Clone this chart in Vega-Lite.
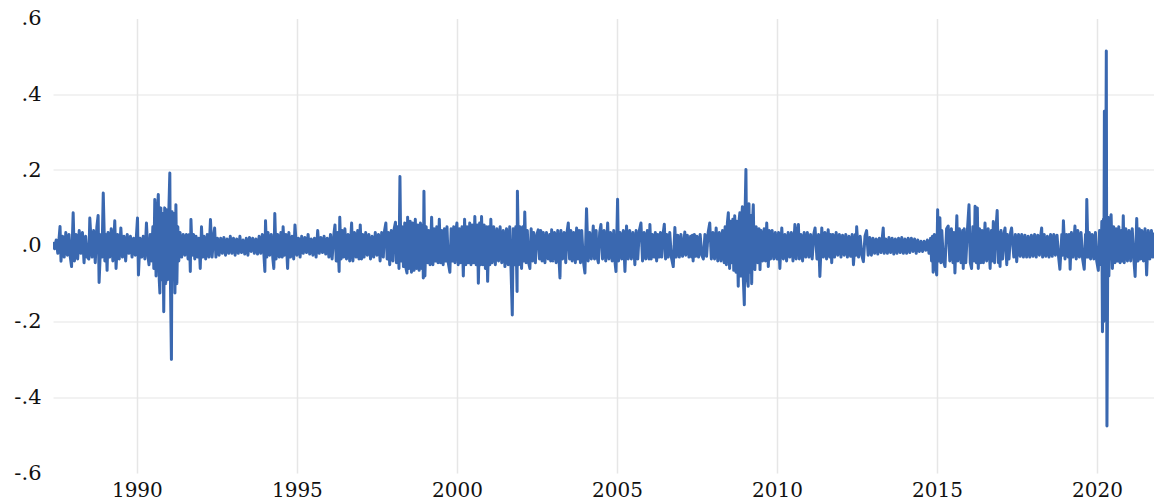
{
"$schema":"https://vega.github.io/schema/vega-lite/v6.json",
"width":1101,"height":454.5,
"autosize":{"type":"none"},
"padding":{"left":53,"top":18.5,"right":0,"bottom":28},
"config":{"view":{"stroke":null},"axis":{"labelFont":"DejaVu Serif","labelFontSize":21,"labelColor":"#111111","domain":false,"ticks":false,"gridColor":"#e6e6e6"}},
"data":{"values":[
{"t":1987.38,"v":0.010},{"t":1987.43,"v":-0.008},{"t":1987.48,"v":0.015},{"t":1987.53,"v":-0.020},{"t":1987.58,"v":0.030},{"t":1987.60,"v":0.051},{"t":1987.63,"v":-0.041},{"t":1987.68,"v":0.025},{"t":1987.73,"v":-0.030},{"t":1987.78,"v":0.035},{"t":1987.83,"v":-0.025},{"t":1987.88,"v":0.030},{"t":1987.92,"v":-0.030},{"t":1987.96,"v":-0.055},
{"t":1988.01,"v":0.087},{"t":1988.05,"v":-0.040},{"t":1988.10,"v":0.030},{"t":1988.15,"v":-0.035},{"t":1988.20,"v":0.040},{"t":1988.25,"v":-0.020},{"t":1988.30,"v":0.035},{"t":1988.35,"v":-0.045},{"t":1988.40,"v":0.025},{"t":1988.45,"v":-0.030},{"t":1988.50,"v":-0.035},{"t":1988.53,"v":0.073},{"t":1988.60,"v":-0.030},{"t":1988.65,"v":0.040},{"t":1988.70,"v":-0.045},{"t":1988.75,"v":0.050},{"t":1988.79,"v":0.080},{"t":1988.82,"v":-0.097},{"t":1988.88,"v":0.030},{"t":1988.91,"v":-0.030},{"t":1988.95,"v":0.139},
{"t":1989.00,"v":-0.040},{"t":1989.03,"v":0.030},{"t":1989.07,"v":-0.065},{"t":1989.10,"v":0.035},{"t":1989.15,"v":-0.030},{"t":1989.20,"v":0.045},{"t":1989.25,"v":-0.040},{"t":1989.31,"v":0.066},{"t":1989.35,"v":-0.060},{"t":1989.40,"v":0.030},{"t":1989.45,"v":-0.035},{"t":1989.50,"v":0.047},{"t":1989.55,"v":-0.030},{"t":1989.60,"v":0.025},{"t":1989.65,"v":-0.040},{"t":1989.70,"v":0.030},{"t":1989.75,"v":-0.020},{"t":1989.80,"v":0.025},{"t":1989.85,"v":-0.030},{"t":1989.90,"v":0.020},{"t":1989.95,"v":-0.025},
{"t":1990.02,"v":0.073},{"t":1990.05,"v":-0.077},{"t":1990.10,"v":0.020},{"t":1990.15,"v":-0.030},{"t":1990.20,"v":0.025},{"t":1990.25,"v":-0.035},{"t":1990.30,"v":0.060},{"t":1990.35,"v":-0.030},{"t":1990.38,"v":-0.050},{"t":1990.42,"v":0.030},{"t":1990.46,"v":-0.040},{"t":1990.50,"v":0.050},{"t":1990.53,"v":-0.060},{"t":1990.56,"v":0.122},{"t":1990.60,"v":-0.080},{"t":1990.64,"v":0.090},{"t":1990.67,"v":0.135},{"t":1990.70,"v":-0.090},{"t":1990.72,"v":-0.125},{"t":1990.75,"v":0.100},{"t":1990.78,"v":-0.090},{"t":1990.81,"v":0.085},{"t":1990.84,"v":-0.174},{"t":1990.87,"v":0.100},{"t":1990.90,"v":-0.100},{"t":1990.93,"v":0.095},{"t":1990.96,"v":-0.090},
{"t":1991.00,"v":0.095},{"t":1991.03,"v":0.192},{"t":1991.05,"v":-0.100},{"t":1991.08,"v":-0.300},{"t":1991.10,"v":0.090},{"t":1991.13,"v":-0.090},{"t":1991.16,"v":0.085},{"t":1991.19,"v":-0.125},{"t":1991.22,"v":0.108},{"t":1991.25,"v":-0.100},{"t":1991.28,"v":0.050},{"t":1991.31,"v":-0.040},{"t":1991.35,"v":0.035},{"t":1991.40,"v":-0.030},{"t":1991.45,"v":0.030},{"t":1991.50,"v":-0.025},{"t":1991.55,"v":0.030},{"t":1991.60,"v":-0.035},{"t":1991.64,"v":0.030},{"t":1991.67,"v":-0.068},{"t":1991.69,"v":0.069},{"t":1991.73,"v":-0.025},{"t":1991.77,"v":0.030},{"t":1991.81,"v":-0.035},{"t":1991.85,"v":0.025},{"t":1991.90,"v":-0.030},{"t":1991.94,"v":0.020},{"t":1991.98,"v":-0.060},
{"t":1992.02,"v":0.050},{"t":1992.06,"v":-0.030},{"t":1992.10,"v":0.025},{"t":1992.15,"v":-0.035},{"t":1992.20,"v":0.030},{"t":1992.25,"v":-0.030},{"t":1992.30,"v":0.069},{"t":1992.35,"v":-0.030},{"t":1992.40,"v":0.025},{"t":1992.43,"v":0.047},{"t":1992.47,"v":-0.030},{"t":1992.52,"v":0.020},{"t":1992.57,"v":-0.025},{"t":1992.62,"v":0.020},{"t":1992.67,"v":-0.020},{"t":1992.72,"v":0.022},{"t":1992.77,"v":-0.025},{"t":1992.82,"v":0.018},{"t":1992.87,"v":-0.020},{"t":1992.92,"v":0.025},{"t":1992.97,"v":-0.020},
{"t":1993.02,"v":0.020},{"t":1993.07,"v":-0.025},{"t":1993.12,"v":0.018},{"t":1993.17,"v":-0.020},{"t":1993.22,"v":0.025},{"t":1993.27,"v":-0.018},{"t":1993.32,"v":0.015},{"t":1993.37,"v":-0.022},{"t":1993.42,"v":0.020},{"t":1993.47,"v":-0.025},{"t":1993.52,"v":0.022},{"t":1993.57,"v":-0.015},{"t":1993.62,"v":0.020},{"t":1993.67,"v":-0.020},{"t":1993.72,"v":0.018},{"t":1993.77,"v":-0.022},{"t":1993.82,"v":0.025},{"t":1993.87,"v":-0.020},{"t":1993.92,"v":0.030},{"t":1993.97,"v":-0.025},
{"t":1994.00,"v":-0.068},{"t":1994.02,"v":0.066},{"t":1994.06,"v":-0.030},{"t":1994.10,"v":0.035},{"t":1994.15,"v":-0.025},{"t":1994.20,"v":0.030},{"t":1994.25,"v":-0.035},{"t":1994.28,"v":-0.060},{"t":1994.31,"v":0.085},{"t":1994.35,"v":-0.035},{"t":1994.40,"v":0.030},{"t":1994.45,"v":-0.030},{"t":1994.50,"v":0.035},{"t":1994.54,"v":-0.030},{"t":1994.57,"v":0.050},{"t":1994.61,"v":-0.025},{"t":1994.66,"v":0.030},{"t":1994.71,"v":-0.060},{"t":1994.75,"v":0.035},{"t":1994.80,"v":-0.030},{"t":1994.85,"v":0.025},{"t":1994.90,"v":-0.035},{"t":1994.94,"v":0.055},
{"t":1995.00,"v":-0.025},{"t":1995.05,"v":0.020},{"t":1995.10,"v":-0.030},{"t":1995.15,"v":0.025},{"t":1995.20,"v":-0.020},{"t":1995.25,"v":0.022},{"t":1995.30,"v":-0.018},{"t":1995.35,"v":0.030},{"t":1995.40,"v":-0.022},{"t":1995.45,"v":0.018},{"t":1995.50,"v":-0.025},{"t":1995.55,"v":0.020},{"t":1995.60,"v":-0.030},{"t":1995.65,"v":0.040},{"t":1995.70,"v":-0.020},{"t":1995.75,"v":0.022},{"t":1995.80,"v":-0.018},{"t":1995.85,"v":0.025},{"t":1995.90,"v":-0.022},{"t":1995.95,"v":0.020},
{"t":1996.00,"v":-0.030},{"t":1996.05,"v":0.030},{"t":1996.10,"v":-0.035},{"t":1996.15,"v":0.025},{"t":1996.19,"v":0.055},{"t":1996.23,"v":-0.040},{"t":1996.27,"v":0.035},{"t":1996.32,"v":-0.068},{"t":1996.34,"v":0.075},{"t":1996.38,"v":-0.035},{"t":1996.42,"v":0.040},{"t":1996.46,"v":-0.030},{"t":1996.50,"v":0.045},{"t":1996.55,"v":-0.035},{"t":1996.60,"v":0.030},{"t":1996.65,"v":-0.040},{"t":1996.71,"v":0.060},{"t":1996.75,"v":-0.040},{"t":1996.80,"v":0.035},{"t":1996.85,"v":-0.030},{"t":1996.90,"v":0.040},{"t":1996.94,"v":-0.035},{"t":1996.98,"v":0.055},
{"t":1997.02,"v":-0.035},{"t":1997.06,"v":0.030},{"t":1997.10,"v":-0.030},{"t":1997.15,"v":0.035},{"t":1997.20,"v":-0.025},{"t":1997.25,"v":0.030},{"t":1997.30,"v":-0.035},{"t":1997.35,"v":0.025},{"t":1997.40,"v":-0.030},{"t":1997.45,"v":0.035},{"t":1997.50,"v":-0.025},{"t":1997.55,"v":0.030},{"t":1997.60,"v":-0.040},{"t":1997.65,"v":0.035},{"t":1997.70,"v":-0.030},{"t":1997.74,"v":0.040},{"t":1997.78,"v":0.060},{"t":1997.82,"v":-0.035},{"t":1997.86,"v":0.035},{"t":1997.90,"v":-0.050},{"t":1997.95,"v":0.040},
{"t":1998.00,"v":-0.040},{"t":1998.04,"v":0.045},{"t":1998.08,"v":0.062},{"t":1998.11,"v":-0.045},{"t":1998.15,"v":0.050},{"t":1998.19,"v":-0.060},{"t":1998.22,"v":0.183},{"t":1998.25,"v":-0.040},{"t":1998.29,"v":0.050},{"t":1998.33,"v":-0.055},{"t":1998.37,"v":0.060},{"t":1998.41,"v":-0.060},{"t":1998.44,"v":-0.072},{"t":1998.46,"v":0.075},{"t":1998.50,"v":-0.060},{"t":1998.54,"v":0.065},{"t":1998.58,"v":-0.070},{"t":1998.62,"v":0.060},{"t":1998.66,"v":-0.065},{"t":1998.70,"v":0.070},{"t":1998.74,"v":-0.060},{"t":1998.78,"v":0.055},{"t":1998.82,"v":-0.065},{"t":1998.86,"v":0.060},{"t":1998.90,"v":-0.060},{"t":1998.93,"v":0.055},{"t":1998.95,"v":-0.085},{"t":1998.97,"v":0.144},
{"t":1999.00,"v":-0.080},{"t":1999.04,"v":0.050},{"t":1999.08,"v":-0.045},{"t":1999.12,"v":0.040},{"t":1999.16,"v":-0.050},{"t":1999.21,"v":0.075},{"t":1999.25,"v":-0.050},{"t":1999.29,"v":0.045},{"t":1999.33,"v":-0.040},{"t":1999.37,"v":0.050},{"t":1999.41,"v":-0.045},{"t":1999.45,"v":0.070},{"t":1999.49,"v":-0.045},{"t":1999.53,"v":0.040},{"t":1999.57,"v":-0.050},{"t":1999.61,"v":0.045},{"t":1999.65,"v":-0.040},{"t":1999.69,"v":0.050},{"t":1999.73,"v":-0.045},{"t":1999.78,"v":-0.070},{"t":1999.82,"v":0.045},{"t":1999.86,"v":-0.040},{"t":1999.90,"v":0.050},{"t":1999.94,"v":-0.045},{"t":1999.97,"v":0.040},
{"t":2000.00,"v":0.060},{"t":2000.04,"v":-0.050},{"t":2000.08,"v":0.045},{"t":2000.12,"v":-0.045},{"t":2000.16,"v":0.050},{"t":2000.20,"v":-0.080},{"t":2000.24,"v":0.070},{"t":2000.28,"v":-0.050},{"t":2000.32,"v":0.050},{"t":2000.36,"v":-0.045},{"t":2000.40,"v":0.060},{"t":2000.44,"v":-0.050},{"t":2000.48,"v":0.055},{"t":2000.52,"v":-0.045},{"t":2000.56,"v":0.077},{"t":2000.60,"v":-0.050},{"t":2000.64,"v":0.055},{"t":2000.67,"v":-0.099},{"t":2000.71,"v":0.060},{"t":2000.74,"v":-0.050},{"t":2000.77,"v":0.077},{"t":2000.81,"v":-0.050},{"t":2000.85,"v":0.055},{"t":2000.89,"v":-0.060},{"t":2000.93,"v":0.050},{"t":2000.96,"v":-0.094},
{"t":2001.00,"v":0.050},{"t":2001.03,"v":-0.050},{"t":2001.06,"v":0.070},{"t":2001.10,"v":-0.045},{"t":2001.15,"v":0.050},{"t":2001.20,"v":-0.050},{"t":2001.25,"v":0.045},{"t":2001.30,"v":-0.040},{"t":2001.35,"v":0.050},{"t":2001.40,"v":-0.045},{"t":2001.45,"v":0.040},{"t":2001.50,"v":-0.055},{"t":2001.55,"v":0.045},{"t":2001.60,"v":-0.050},{"t":2001.65,"v":0.050},{"t":2001.69,"v":-0.060},{"t":2001.73,"v":-0.183},{"t":2001.76,"v":0.045},{"t":2001.80,"v":-0.050},{"t":2001.84,"v":0.050},{"t":2001.88,"v":-0.121},{"t":2001.89,"v":0.144},{"t":2001.93,"v":-0.050},{"t":2001.97,"v":0.050},
{"t":2002.02,"v":-0.060},{"t":2002.06,"v":0.050},{"t":2002.09,"v":-0.040},{"t":2002.12,"v":0.089},{"t":2002.16,"v":-0.045},{"t":2002.20,"v":0.040},{"t":2002.24,"v":-0.045},{"t":2002.28,"v":-0.060},{"t":2002.32,"v":0.045},{"t":2002.36,"v":-0.040},{"t":2002.40,"v":0.035},{"t":2002.45,"v":-0.045},{"t":2002.50,"v":0.030},{"t":2002.54,"v":0.042},{"t":2002.58,"v":-0.035},{"t":2002.62,"v":0.040},{"t":2002.66,"v":-0.040},{"t":2002.70,"v":0.035},{"t":2002.75,"v":-0.045},{"t":2002.80,"v":0.035},{"t":2002.85,"v":-0.035},{"t":2002.90,"v":0.030},{"t":2002.93,"v":-0.040},{"t":2002.96,"v":0.042},
{"t":2003.00,"v":-0.040},{"t":2003.05,"v":0.035},{"t":2003.10,"v":-0.045},{"t":2003.15,"v":0.040},{"t":2003.19,"v":-0.035},{"t":2003.22,"v":-0.085},{"t":2003.25,"v":0.040},{"t":2003.30,"v":-0.035},{"t":2003.35,"v":0.035},{"t":2003.40,"v":-0.045},{"t":2003.44,"v":0.035},{"t":2003.48,"v":0.060},{"t":2003.52,"v":-0.035},{"t":2003.56,"v":0.040},{"t":2003.60,"v":-0.040},{"t":2003.65,"v":0.035},{"t":2003.70,"v":-0.045},{"t":2003.74,"v":0.047},{"t":2003.78,"v":-0.035},{"t":2003.82,"v":0.040},{"t":2003.86,"v":-0.045},{"t":2003.90,"v":0.040},{"t":2003.95,"v":-0.040},
{"t":2004.00,"v":-0.072},{"t":2004.05,"v":0.098},{"t":2004.10,"v":-0.040},{"t":2004.15,"v":0.035},{"t":2004.20,"v":-0.035},{"t":2004.26,"v":0.052},{"t":2004.30,"v":-0.035},{"t":2004.35,"v":0.040},{"t":2004.38,"v":-0.030},{"t":2004.42,"v":-0.045},{"t":2004.46,"v":0.035},{"t":2004.50,"v":0.056},{"t":2004.55,"v":-0.035},{"t":2004.60,"v":0.040},{"t":2004.65,"v":-0.040},{"t":2004.71,"v":0.060},{"t":2004.75,"v":-0.035},{"t":2004.80,"v":0.035},{"t":2004.85,"v":-0.040},{"t":2004.90,"v":0.040},{"t":2004.93,"v":-0.035},{"t":2004.97,"v":-0.068},
{"t":2005.00,"v":0.040},{"t":2005.02,"v":0.123},{"t":2005.05,"v":-0.040},{"t":2005.10,"v":0.035},{"t":2005.15,"v":-0.035},{"t":2005.20,"v":0.040},{"t":2005.25,"v":-0.068},{"t":2005.30,"v":0.052},{"t":2005.35,"v":-0.035},{"t":2005.40,"v":0.040},{"t":2005.45,"v":-0.035},{"t":2005.50,"v":0.035},{"t":2005.56,"v":-0.050},{"t":2005.60,"v":0.040},{"t":2005.65,"v":-0.035},{"t":2005.70,"v":0.040},{"t":2005.75,"v":0.060},{"t":2005.80,"v":-0.040},{"t":2005.85,"v":0.035},{"t":2005.90,"v":-0.035},{"t":2005.95,"v":0.040},
{"t":2006.00,"v":-0.035},{"t":2006.03,"v":0.056},{"t":2006.07,"v":-0.035},{"t":2006.11,"v":0.030},{"t":2006.16,"v":-0.030},{"t":2006.20,"v":0.035},{"t":2006.24,"v":-0.040},{"t":2006.28,"v":0.030},{"t":2006.32,"v":-0.030},{"t":2006.36,"v":0.035},{"t":2006.40,"v":-0.030},{"t":2006.44,"v":0.030},{"t":2006.48,"v":0.057},{"t":2006.52,"v":-0.035},{"t":2006.56,"v":0.030},{"t":2006.60,"v":-0.030},{"t":2006.65,"v":0.035},{"t":2006.70,"v":-0.030},{"t":2006.76,"v":-0.055},{"t":2006.81,"v":0.048},{"t":2006.85,"v":-0.030},{"t":2006.90,"v":0.028},{"t":2006.95,"v":-0.030},
{"t":2007.00,"v":0.030},{"t":2007.05,"v":-0.028},{"t":2007.12,"v":0.036},{"t":2007.15,"v":-0.025},{"t":2007.20,"v":0.028},{"t":2007.25,"v":-0.030},{"t":2007.30,"v":0.025},{"t":2007.34,"v":-0.030},{"t":2007.36,"v":0.028},{"t":2007.38,"v":-0.040},{"t":2007.42,"v":0.030},{"t":2007.46,"v":-0.028},{"t":2007.50,"v":0.025},{"t":2007.55,"v":-0.030},{"t":2007.60,"v":0.030},{"t":2007.65,"v":-0.025},{"t":2007.70,"v":-0.035},{"t":2007.75,"v":0.030},{"t":2007.80,"v":-0.028},{"t":2007.85,"v":0.035},{"t":2007.90,"v":0.060},{"t":2007.95,"v":-0.035},
{"t":2008.00,"v":0.035},{"t":2008.05,"v":-0.035},{"t":2008.10,"v":0.047},{"t":2008.15,"v":-0.040},{"t":2008.20,"v":0.035},{"t":2008.25,"v":-0.040},{"t":2008.30,"v":0.040},{"t":2008.35,"v":-0.045},{"t":2008.38,"v":0.050},{"t":2008.42,"v":-0.050},{"t":2008.45,"v":0.060},{"t":2008.48,"v":0.087},{"t":2008.52,"v":-0.060},{"t":2008.55,"v":0.065},{"t":2008.58,"v":-0.045},{"t":2008.62,"v":0.070},{"t":2008.65,"v":-0.065},{"t":2008.68,"v":0.079},{"t":2008.72,"v":-0.070},{"t":2008.75,"v":0.065},{"t":2008.79,"v":-0.107},{"t":2008.82,"v":0.070},{"t":2008.84,"v":0.087},{"t":2008.87,"v":-0.080},{"t":2008.90,"v":0.075},{"t":2008.92,"v":0.103},{"t":2008.95,"v":-0.090},{"t":2008.98,"v":-0.156},
{"t":2009.00,"v":0.070},{"t":2009.03,"v":0.201},{"t":2009.06,"v":-0.080},{"t":2009.10,"v":-0.107},{"t":2009.125,"v":0.111},{"t":2009.15,"v":-0.070},{"t":2009.18,"v":0.080},{"t":2009.21,"v":-0.100},{"t":2009.24,"v":0.070},{"t":2009.26,"v":0.108},{"t":2009.29,"v":-0.050},{"t":2009.31,"v":-0.063},{"t":2009.35,"v":0.050},{"t":2009.40,"v":-0.045},{"t":2009.44,"v":0.045},{"t":2009.47,"v":-0.063},{"t":2009.50,"v":0.040},{"t":2009.55,"v":-0.040},{"t":2009.60,"v":0.045},{"t":2009.64,"v":-0.040},{"t":2009.68,"v":0.060},{"t":2009.73,"v":-0.055},{"t":2009.76,"v":0.040},{"t":2009.80,"v":-0.035},{"t":2009.85,"v":0.040},{"t":2009.90,"v":-0.035},{"t":2009.95,"v":0.035},
{"t":2010.00,"v":-0.035},{"t":2010.05,"v":0.035},{"t":2010.09,"v":-0.060},{"t":2010.15,"v":0.047},{"t":2010.20,"v":-0.035},{"t":2010.25,"v":0.030},{"t":2010.30,"v":-0.040},{"t":2010.35,"v":0.035},{"t":2010.40,"v":-0.030},{"t":2010.45,"v":0.035},{"t":2010.50,"v":-0.040},{"t":2010.56,"v":0.056},{"t":2010.60,"v":-0.035},{"t":2010.63,"v":0.030},{"t":2010.67,"v":0.056},{"t":2010.70,"v":-0.035},{"t":2010.75,"v":0.030},{"t":2010.80,"v":-0.040},{"t":2010.85,"v":0.035},{"t":2010.90,"v":-0.030},{"t":2010.95,"v":0.035},
{"t":2011.00,"v":-0.030},{"t":2011.05,"v":0.030},{"t":2011.10,"v":-0.035},{"t":2011.15,"v":0.030},{"t":2011.19,"v":0.047},{"t":2011.25,"v":-0.035},{"t":2011.30,"v":0.030},{"t":2011.34,"v":-0.081},{"t":2011.40,"v":0.047},{"t":2011.45,"v":-0.030},{"t":2011.50,"v":0.035},{"t":2011.55,"v":-0.035},{"t":2011.60,"v":0.042},{"t":2011.65,"v":-0.030},{"t":2011.68,"v":0.030},{"t":2011.71,"v":-0.045},{"t":2011.75,"v":0.030},{"t":2011.80,"v":-0.030},{"t":2011.85,"v":0.035},{"t":2011.90,"v":-0.025},{"t":2011.95,"v":0.030},
{"t":2012.00,"v":-0.030},{"t":2012.05,"v":0.028},{"t":2012.10,"v":-0.025},{"t":2012.15,"v":0.030},{"t":2012.20,"v":-0.030},{"t":2012.25,"v":0.025},{"t":2012.30,"v":-0.028},{"t":2012.35,"v":0.030},{"t":2012.39,"v":-0.050},{"t":2012.45,"v":0.030},{"t":2012.47,"v":-0.025},{"t":2012.49,"v":0.050},{"t":2012.55,"v":-0.030},{"t":2012.60,"v":0.025},{"t":2012.65,"v":-0.025},{"t":2012.70,"v":-0.042},{"t":2012.75,"v":0.025},{"t":2012.80,"v":0.040},{"t":2012.85,"v":-0.025},{"t":2012.90,"v":0.022},{"t":2012.95,"v":-0.025},
{"t":2013.00,"v":0.020},{"t":2013.05,"v":-0.020},{"t":2013.10,"v":0.018},{"t":2013.15,"v":-0.022},{"t":2013.20,"v":0.020},{"t":2013.25,"v":-0.018},{"t":2013.29,"v":0.020},{"t":2013.32,"v":0.047},{"t":2013.35,"v":-0.020},{"t":2013.40,"v":0.018},{"t":2013.45,"v":-0.020},{"t":2013.50,"v":0.022},{"t":2013.55,"v":-0.018},{"t":2013.60,"v":0.020},{"t":2013.65,"v":-0.022},{"t":2013.70,"v":0.018},{"t":2013.75,"v":-0.020},{"t":2013.80,"v":0.020},{"t":2013.85,"v":-0.018},{"t":2013.90,"v":0.022},{"t":2013.95,"v":-0.020},
{"t":2014.00,"v":0.018},{"t":2014.05,"v":-0.020},{"t":2014.10,"v":0.020},{"t":2014.15,"v":-0.018},{"t":2014.20,"v":0.020},{"t":2014.25,"v":-0.015},{"t":2014.30,"v":0.018},{"t":2014.35,"v":-0.020},{"t":2014.40,"v":0.015},{"t":2014.45,"v":-0.015},{"t":2014.50,"v":0.012},{"t":2014.55,"v":-0.015},{"t":2014.60,"v":0.012},{"t":2014.65,"v":-0.012},{"t":2014.70,"v":0.015},{"t":2014.75,"v":-0.020},{"t":2014.80,"v":0.020},{"t":2014.83,"v":-0.040},{"t":2014.86,"v":0.025},{"t":2014.88,"v":-0.070},{"t":2014.92,"v":0.030},{"t":2014.95,"v":-0.040},{"t":2014.99,"v":-0.077},
{"t":2015.02,"v":0.095},{"t":2015.05,"v":-0.040},{"t":2015.09,"v":0.074},{"t":2015.12,"v":-0.045},{"t":2015.15,"v":0.040},{"t":2015.20,"v":-0.040},{"t":2015.25,"v":-0.055},{"t":2015.30,"v":0.045},{"t":2015.35,"v":0.052},{"t":2015.40,"v":-0.040},{"t":2015.45,"v":0.045},{"t":2015.50,"v":-0.045},{"t":2015.53,"v":0.035},{"t":2015.56,"v":-0.072},{"t":2015.62,"v":0.079},{"t":2015.65,"v":-0.040},{"t":2015.70,"v":0.045},{"t":2015.75,"v":-0.045},{"t":2015.80,"v":0.040},{"t":2015.82,"v":-0.060},{"t":2015.85,"v":0.045},{"t":2015.90,"v":-0.045},{"t":2015.95,"v":0.040},
{"t":2016.00,"v":0.108},{"t":2016.04,"v":-0.045},{"t":2016.08,"v":-0.060},{"t":2016.12,"v":0.050},{"t":2016.16,"v":-0.040},{"t":2016.19,"v":0.104},{"t":2016.23,"v":-0.045},{"t":2016.26,"v":0.100},{"t":2016.29,"v":-0.060},{"t":2016.33,"v":0.045},{"t":2016.37,"v":-0.045},{"t":2016.41,"v":0.040},{"t":2016.45,"v":-0.045},{"t":2016.50,"v":0.060},{"t":2016.55,"v":-0.040},{"t":2016.60,"v":0.045},{"t":2016.66,"v":-0.060},{"t":2016.70,"v":0.040},{"t":2016.73,"v":-0.040},{"t":2016.76,"v":0.064},{"t":2016.80,"v":-0.045},{"t":2016.84,"v":0.040},{"t":2016.88,"v":0.093},{"t":2016.92,"v":-0.045},{"t":2016.95,"v":0.035},{"t":2016.97,"v":-0.055},
{"t":2017.00,"v":0.040},{"t":2017.05,"v":-0.035},{"t":2017.10,"v":0.035},{"t":2017.125,"v":0.047},{"t":2017.18,"v":-0.050},{"t":2017.20,"v":0.030},{"t":2017.25,"v":-0.035},{"t":2017.30,"v":0.035},{"t":2017.33,"v":0.047},{"t":2017.40,"v":-0.030},{"t":2017.45,"v":0.030},{"t":2017.49,"v":-0.042},{"t":2017.55,"v":0.030},{"t":2017.60,"v":-0.028},{"t":2017.65,"v":0.030},{"t":2017.70,"v":-0.030},{"t":2017.75,"v":0.028},{"t":2017.80,"v":-0.030},{"t":2017.85,"v":0.025},{"t":2017.90,"v":-0.030},{"t":2017.95,"v":0.028},
{"t":2018.00,"v":-0.028},{"t":2018.05,"v":0.030},{"t":2018.10,"v":-0.030},{"t":2018.15,"v":0.028},{"t":2018.20,"v":-0.025},{"t":2018.24,"v":0.025},{"t":2018.27,"v":0.047},{"t":2018.30,"v":-0.030},{"t":2018.35,"v":0.030},{"t":2018.40,"v":-0.028},{"t":2018.45,"v":0.025},{"t":2018.50,"v":-0.030},{"t":2018.55,"v":0.030},{"t":2018.60,"v":-0.028},{"t":2018.65,"v":0.030},{"t":2018.70,"v":-0.025},{"t":2018.75,"v":0.028},{"t":2018.80,"v":-0.030},{"t":2018.84,"v":-0.062},{"t":2018.90,"v":0.030},{"t":2018.92,"v":-0.025},{"t":2018.95,"v":0.066},
{"t":2019.00,"v":-0.035},{"t":2019.05,"v":0.030},{"t":2019.10,"v":-0.030},{"t":2019.13,"v":0.030},{"t":2019.16,"v":-0.062},{"t":2019.20,"v":0.035},{"t":2019.25,"v":-0.030},{"t":2019.31,"v":0.052},{"t":2019.35,"v":-0.035},{"t":2019.40,"v":0.040},{"t":2019.45,"v":-0.030},{"t":2019.50,"v":0.035},{"t":2019.55,"v":-0.035},{"t":2019.60,"v":-0.062},{"t":2019.64,"v":0.030},{"t":2019.66,"v":-0.030},{"t":2019.68,"v":0.122},{"t":2019.72,"v":-0.030},{"t":2019.76,"v":0.035},{"t":2019.80,"v":-0.035},{"t":2019.85,"v":0.030},{"t":2019.90,"v":-0.035},{"t":2019.95,"v":0.035},{"t":2019.99,"v":-0.040},
{"t":2020.04,"v":-0.065},{"t":2020.08,"v":0.040},{"t":2020.12,"v":-0.050},{"t":2020.15,"v":0.064},{"t":2020.17,"v":-0.227},{"t":2020.20,"v":0.070},{"t":2020.21,"v":-0.200},{"t":2020.23,"v":0.355},{"t":2020.26,"v":-0.100},{"t":2020.29,"v":0.514},{"t":2020.31,"v":-0.476},{"t":2020.34,"v":0.075},{"t":2020.37,"v":-0.080},{"t":2020.40,"v":0.060},{"t":2020.44,"v":0.082},{"t":2020.48,"v":-0.060},{"t":2020.52,"v":0.050},{"t":2020.56,"v":-0.045},{"t":2020.60,"v":0.045},{"t":2020.64,"v":-0.040},{"t":2020.68,"v":0.050},{"t":2020.72,"v":-0.045},{"t":2020.76,"v":0.040},{"t":2020.79,"v":-0.040},{"t":2020.82,"v":0.079},{"t":2020.85,"v":-0.045},{"t":2020.90,"v":0.045},{"t":2020.95,"v":-0.040},
{"t":2021.00,"v":0.040},{"t":2021.05,"v":-0.040},{"t":2021.10,"v":0.045},{"t":2021.15,"v":-0.035},{"t":2021.19,"v":-0.081},{"t":2021.24,"v":0.072},{"t":2021.28,"v":-0.040},{"t":2021.32,"v":0.045},{"t":2021.36,"v":-0.035},{"t":2021.40,"v":0.040},{"t":2021.45,"v":-0.040},{"t":2021.50,"v":0.045},{"t":2021.55,"v":-0.077},{"t":2021.60,"v":0.040},{"t":2021.65,"v":-0.035},{"t":2021.70,"v":0.040},{"t":2021.74,"v":-0.030},{"t":2021.78,"v":0.035}
]},
"mark":{"type":"line","color":"#3a68b0","strokeWidth":3,"strokeJoin":"round","clip":true},
"encoding":{
"x":{"field":"t","type":"quantitative","scale":{"domain":[1987.38,2021.78],"nice":false,"zero":false},"axis":{"title":null,"values":[1990,1995,2000,2005,2010,2015,2020],"format":"d","labelPadding":7,"labelFontSize":20,"gridWidth":1.5,"labelFlush":false}},
"y":{"field":"v","type":"quantitative","scale":{"domain":[-0.6,0.6],"nice":false},"axis":{"title":null,"values":[-0.6,-0.4,-0.2,0,0.2,0.4,0.6],"labelExpr":"(datum.value < -0.001 ? '-' : '') + replace(format(abs(datum.value),'.1f'),'0.','.')","labelPadding":12,"gridWidth":1.2,"gridOpacity":{"condition":{"test":"abs(datum.value) > 0.5","value":0},"value":1}}}
}
}
